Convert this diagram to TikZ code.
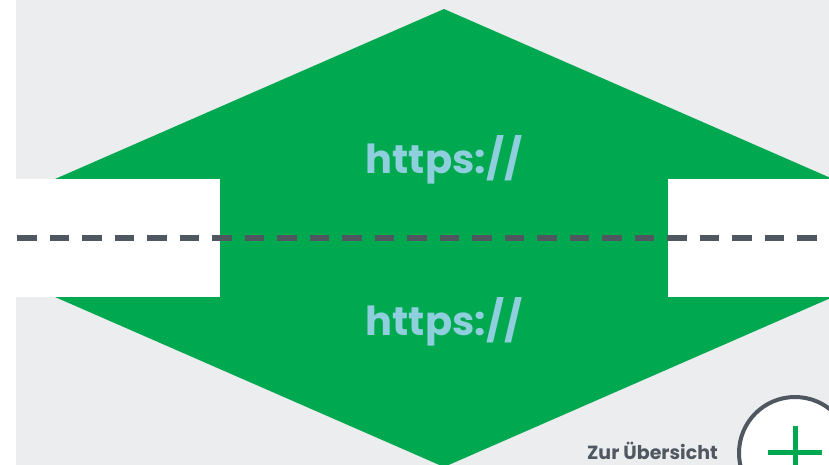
\documentclass[tikz,border=0pt]{standalone}
\usepackage{fontspec}
\setmainfont{Poppins}
\definecolor{bggray}{HTML}{ECEDEF}
\definecolor{lockgreen}{HTML}{00A84F}
\definecolor{urlblue}{HTML}{8FCFDD}
\definecolor{slate}{HTML}{4F5761}
\tikzset{
  urltext/.style={text=urlblue, font=\fontsize{40}{40}\selectfont\bfseries, inner sep=0pt},
  gapbox/.style={fill=white, draw=none},
  tunnel/.style={draw=slate, line width=6pt, dash pattern=on 19.5pt off 13pt}
}
\begin{document}
\begin{tikzpicture}[x=1pt,y=-1pt]
    \useasboundingbox (0,0) rectangle (829,465);
    \fill[white] (0,0) rectangle (829,465);
    \fill[bggray] (16,0) rectangle (829,465);

    % big green diamond, partly outside the picture
    \begin{scope}
      \clip (16,0) rectangle (829,465);
      \fill[lockgreen] (444,9) -- (968,238) -- (444,467) -- (-80,238) -- cycle;
    \end{scope}

    % white gaps left and right
    \fill[gapbox] (16,179) rectangle (220,297);
    \fill[gapbox] (668,179) rectangle (829,297);

    \node[urltext] (urlup) at (444,160) {https://};
    \node[urltext] (urldown) at (444,322) {https://};

    \coordinate (lineleft) at (17,238);
    \coordinate (lineright) at (829,238);
    \draw[tunnel] (lineleft) -- (lineright);

    % overview button
    \node[anchor=base east, text=slate, font=\fontsize{19}{19}\selectfont\bfseries, inner sep=0pt] (overview) at (718,459) {Zur Übersicht};
    \draw[slate, fill=white, line width=4pt] (795,453) circle (56);
    \draw[lockgreen, line width=5pt] (768,452) -- (822,452);
    \draw[lockgreen, line width=5pt] (795,426) -- (795,470);
\end{tikzpicture}
\end{document}
